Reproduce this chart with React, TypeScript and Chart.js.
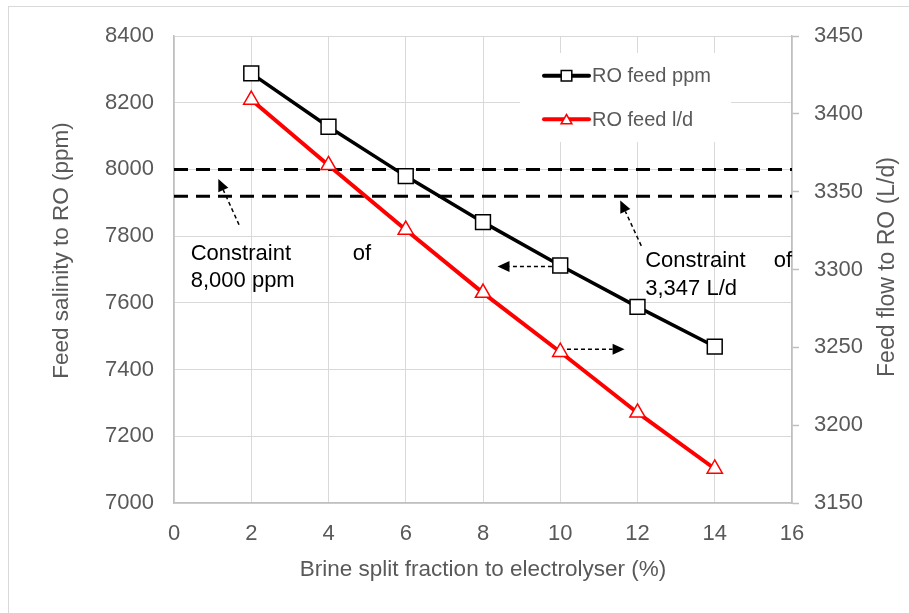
import React, { useEffect, useRef } from "react";
import { Chart, registerables } from "chart.js";

Chart.register(...registerables);

// ---- data ----
const splitFraction = [2, 4, 6, 8, 10, 12, 14];
const roFeedPpm = [8288, 8128, 7980, 7842, 7712, 7588, 7469];
const roFeedLd = [3409, 3367, 3325.5, 3285, 3247, 3208, 3172];
const ppmConstraint = 8000;
const flowConstraint = 3347;
const xRange = [0, 16];
const ppmRange = [7000, 8400];
const flowRange = [3150, 3450];
const seriesLabels = ["RO feed ppm", "RO feed l/d"];
const xTitle = "Brine split fraction to electrolyser (%)";
const yTitle = "Feed salinity to RO (ppm)";
const y1Title = "Feed flow to RO (L/d)";

// annotation arrows: [tailX, tailPpm, headX, headPpm] (data units on x / left axis)
const arrows = [
  [1.684, 7834, 1.148, 7971],
  [9.785, 7709, 8.376, 7709],
  [12.098, 7771, 11.554, 7907],
  [10.174, 7461, 11.666, 7461],
];
// annotation texts: [text, x, ppm baseline]
const notes: [string, number, number][] = [
  ["Constraint", 0.433, 7729],
  ["of", 4.63, 7729],
  ["8,000 ppm", 0.433, 7649],
  ["Constraint", 12.2, 7706],
  ["of", 15.53, 7706],
  ["3,347 L/d", 12.2, 7624],
];

const FONT = "'Liberation Sans', Arial, Helvetica, sans-serif";
const GREY_TEXT = "#595959";

const overlay = {
  id: "overlay",
  beforeDatasetsDraw(chart: any) {
    const { ctx, chartArea: a } = chart;
    ctx.save();
    ctx.fillStyle = "#ffffff";
    ctx.fillRect(a.left + 346, a.top + 17, 211, 89);
    ctx.restore();
  },
  afterDatasetsDraw(chart: any) {
    const { ctx, chartArea: a, scales } = chart;
    const sx = scales.x;
    const sy = scales.y;
    ctx.save();
    // legend
    const ds = chart.data.datasets;
    for (let i = 0; i < 2; i++) {
      const d = ds[i];
      const cy = a.top + 39.7 + i * 43.6;
      const x0 = a.left + 370;
      const x1 = a.left + 415;
      const cx = (x0 + x1) / 2;
      ctx.beginPath();
      ctx.strokeStyle = d.borderColor;
      ctx.lineWidth = 4;
      ctx.lineCap = "round";
      ctx.moveTo(x0, cy);
      ctx.lineTo(x1, cy);
      ctx.stroke();
      ctx.lineCap = "butt";
      ctx.beginPath();
      if (d.pointStyle === "rect") {
        ctx.rect(cx - 5.3, cy - 5.3, 10.6, 10.6);
      } else {
        ctx.moveTo(cx, cy - 4.8);
        ctx.lineTo(cx + 5.4, cy + 4.5);
        ctx.lineTo(cx - 5.4, cy + 4.5);
        ctx.closePath();
      }
      ctx.fillStyle = "#ffffff";
      ctx.fill();
      ctx.lineWidth = 1.5;
      ctx.strokeStyle = d.pointBorderColor;
      ctx.stroke();
      ctx.fillStyle = GREY_TEXT;
      ctx.font = `20px ${FONT}`;
      ctx.textBaseline = "middle";
      ctx.textAlign = "left";
      ctx.fillText(d.label, x1 + 3, cy + 1);
    }
    // arrows
    for (const [tx, ty, hx, hy] of arrows) {
      const x0 = sx.getPixelForValue(tx);
      const y0 = sy.getPixelForValue(ty);
      const x1 = sx.getPixelForValue(hx);
      const y1 = sy.getPixelForValue(hy);
      const ang = Math.atan2(y1 - y0, x1 - x0);
      const hl = 12;
      const hw = 5.5;
      const bx = x1 - Math.cos(ang) * hl;
      const by = y1 - Math.sin(ang) * hl;
      ctx.beginPath();
      ctx.setLineDash([4, 3]);
      ctx.strokeStyle = "#000";
      ctx.lineWidth = 1.5;
      ctx.moveTo(x0, y0);
      ctx.lineTo(bx, by);
      ctx.stroke();
      ctx.setLineDash([]);
      ctx.beginPath();
      ctx.moveTo(x1, y1);
      ctx.lineTo(bx + Math.sin(ang) * hw, by - Math.cos(ang) * hw);
      ctx.lineTo(bx - Math.sin(ang) * hw, by + Math.cos(ang) * hw);
      ctx.closePath();
      ctx.fillStyle = "#000";
      ctx.fill();
    }
    // notes
    ctx.fillStyle = "#000";
    ctx.font = `22px ${FONT}`;
    ctx.textBaseline = "alphabetic";
    ctx.textAlign = "left";
    for (const [t, x, y] of notes) {
      ctx.fillText(t, sx.getPixelForValue(x), sy.getPixelForValue(y));
    }
    ctx.restore();
  },
  afterDraw(chart: any) {
    const { ctx, chartArea: a } = chart;
    ctx.save();
    ctx.fillStyle = GREY_TEXT;
    ctx.textAlign = "center";
    ctx.textBaseline = "alphabetic";
    ctx.font = `22.5px ${FONT}`;
    ctx.fillText(xTitle, (a.left + a.right) / 2, a.bottom + 73);
    ctx.save();
    ctx.translate(a.left - 105.7, a.top + 214.5);
    ctx.rotate(-Math.PI / 2);
    ctx.fillText(yTitle, 0, 0);
    ctx.restore();
    ctx.save();
    ctx.font = `23px ${FONT}`;
    ctx.translate(a.right + 101.5, a.top + 231);
    ctx.rotate(-Math.PI / 2);
    ctx.fillText(y1Title, 0, 0);
    ctx.restore();
    ctx.restore();
  },
};

const plain = (v: any) => String(v);

export default function App() {
  const ref = useRef<HTMLCanvasElement>(null);
  useEffect(() => {
    const tickFont = { family: FONT, size: 22 };
    const chart = new Chart(ref.current as HTMLCanvasElement, {
      type: "line",
      data: {
        datasets: [
          {
            label: seriesLabels[0],
            data: splitFraction.map((x, i) => ({ x, y: roFeedPpm[i] })),
            yAxisID: "y",
            borderColor: "#000000",
            borderWidth: 3.5,
            pointStyle: "rect",
            pointRadius: 10.5,
            pointBackgroundColor: "#ffffff",
            pointBorderColor: "#000000",
            pointBorderWidth: 1.5,
          },
          {
            label: seriesLabels[1],
            data: splitFraction.map((x, i) => ({ x, y: roFeedLd[i] })),
            yAxisID: "y1",
            borderColor: "#ff0000",
            borderWidth: 4,
            pointStyle: "triangle",
            pointRadius: 8.8,
            pointBackgroundColor: "#ffffff",
            pointBorderColor: "#ff0000",
            pointBorderWidth: 1.5,
          },
          {
            label: "ppm constraint",
            data: [
              { x: xRange[0], y: ppmConstraint },
              { x: xRange[1], y: ppmConstraint },
            ],
            yAxisID: "y",
            borderColor: "#000000",
            borderWidth: 3,
            borderDash: [14, 8],
            pointRadius: 0,
          },
          {
            label: "flow constraint",
            data: [
              { x: xRange[0], y: flowConstraint },
              { x: xRange[1], y: flowConstraint },
            ],
            yAxisID: "y1",
            borderColor: "#000000",
            borderWidth: 3,
            borderDash: [14, 8],
            pointRadius: 0,
          },
        ] as any,
      },
      options: {
        responsive: false,
        animation: false,
        devicePixelRatio: 1,
        layout: { padding: { top: 36, left: 0, right: 0, bottom: 0 } },
        plugins: { legend: { display: false }, tooltip: { enabled: false } },
        scales: {
          x: {
            type: "linear",
            min: xRange[0],
            max: xRange[1],
            ticks: { stepSize: 2, color: GREY_TEXT, font: tickFont, padding: 18, maxRotation: 0, callback: plain },
            grid: { color: "#d9d9d9", lineWidth: 1, drawTicks: false },
            border: { color: "#bfbfbf", width: 1.5 },
            afterFit: (s: any) => {
              s.height = 110;
            },
          },
          y: {
            position: "left",
            min: ppmRange[0],
            max: ppmRange[1],
            ticks: { stepSize: 200, color: GREY_TEXT, font: tickFont, padding: 20, callback: plain },
            grid: { color: "#d9d9d9", lineWidth: 1, drawTicks: false },
            border: { color: "#bfbfbf", width: 1.5 },
            afterFit: (s: any) => {
              s.width = 174;
            },
          },
          y1: {
            position: "right",
            min: flowRange[0],
            max: flowRange[1],
            ticks: { stepSize: 50, color: GREY_TEXT, font: tickFont, padding: 15, callback: plain },
            grid: {
              drawOnChartArea: false,
              drawTicks: true,
              tickLength: 7,
              tickColor: "#bfbfbf",
              tickWidth: 1.5,
            },
            border: { color: "#bfbfbf", width: 1.5 },
            afterFit: (s: any) => {
              s.width = 117;
            },
          },
        },
      } as any,
      plugins: [overlay],
    });
    return () => chart.destroy();
  }, []);
  return (
    <div
      style={{
        position: "fixed",
        left: 0,
        top: 0,
        width: 909,
        height: 613,
        overflow: "hidden",
        background: "#ffffff",
      }}
    >
      <div
        style={{
          position: "absolute",
          left: 8,
          top: 6,
          width: 960,
          height: 700,
          border: "1px solid #d9d9d9",
          boxSizing: "border-box",
        }}
      />
      <canvas
        ref={ref}
        width={909}
        height={613}
        style={{ position: "absolute", left: 0, top: 0, width: 909, height: 613 }}
      />
    </div>
  );
}
